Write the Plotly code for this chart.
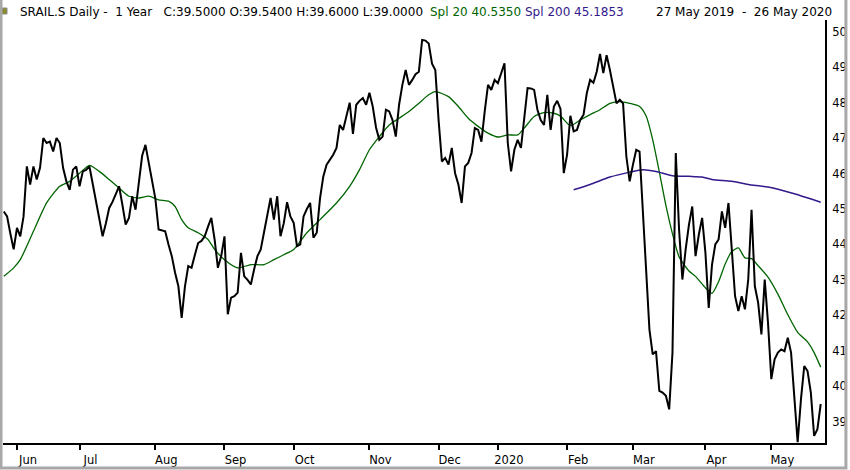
import pandas as pd
import plotly.graph_objects as go

# SIX exchange closed on these days
holidays = ['2019-05-30', '2019-06-10', '2019-08-01', '2019-12-24', '2019-12-25',
            '2019-12-26', '2019-12-31', '2020-01-01', '2020-01-02', '2020-04-10',
            '2020-04-13', '2020-05-01', '2020-05-21']

# daily close, one value per trading day 27 May 2019 .. 26 May 2020
close = [
    44.93, 44.79, 44.30, 43.86, 44.47, 44.23, 44.79, 46.20, 45.69, 46.20,
    45.83, 46.16, 47.00, 46.86, 46.90, 46.62, 47.00, 46.86, 46.16, 45.78,
    45.54, 46.11, 46.20, 45.64, 46.06, 46.10, 46.20, 45.70, 45.12, 44.70,
    44.23, 44.60, 45.03, 45.20, 45.40, 45.64, 45.12, 44.56, 44.75, 45.36,
    44.98, 45.80, 46.50, 46.81, 46.30, 45.70, 45.30, 44.42, 44.40, 44.37,
    44.00, 43.67, 43.20, 42.82, 41.93, 42.82, 43.39, 43.34, 43.70, 44.04,
    44.10, 44.23, 44.50, 44.75, 44.14, 43.34, 43.67, 44.23, 42.03, 42.50,
    42.54, 42.64, 43.76, 43.10, 43.00, 42.87, 43.30, 43.67, 43.86, 44.33,
    44.80, 45.31, 44.70, 45.36, 44.23, 44.60, 45.19, 44.79, 44.61, 43.95,
    44.00, 44.79, 45.00, 45.17, 44.19, 44.33, 45.30, 45.92, 46.25, 46.40,
    46.53, 46.72, 47.37, 47.23, 47.60, 48.00, 47.12, 47.94, 48.05, 48.13,
    47.94, 48.28, 47.89, 47.30, 46.95, 47.04, 47.80, 47.75, 47.51, 47.04,
    47.94, 48.50, 48.92, 48.50, 48.64, 48.80, 48.87, 49.77, 49.75, 49.67,
    49.10, 48.92, 47.50, 46.34, 46.44, 46.25, 46.72, 46.01, 45.69, 45.17,
    46.20, 46.30, 46.58, 47.28, 47.23, 46.90, 47.75, 48.50, 48.36, 48.64,
    48.55, 48.80, 49.11, 46.86, 46.06, 46.67, 46.95, 46.72, 47.61, 48.41,
    48.40, 48.36, 47.80, 47.51, 47.37, 48.22, 47.23, 47.89, 48.05, 47.82,
    46.01, 46.53, 47.63, 47.19, 47.23, 47.51, 47.66, 48.27, 48.64, 48.56,
    48.87, 49.37, 48.83, 49.34, 48.92, 48.41, 47.98, 48.08, 47.98, 46.48,
    45.78, 46.25, 46.67, 46.62, 44.98, 43.20, 41.60, 40.90, 40.99, 39.87,
    39.82, 39.73, 39.35, 40.95, 46.58, 44.42, 43.01, 43.86, 44.56, 45.07,
    43.67, 44.28, 44.75, 43.76, 42.21, 43.43, 44.00, 44.14, 44.93, 44.47,
    45.17, 43.86, 42.54, 42.12, 42.54, 42.17, 43.01, 44.98, 42.82, 42.36,
    41.46, 43.01, 41.79, 40.20, 40.76, 40.95, 41.04, 40.99, 41.37, 40.95,
    39.68, 38.42, 39.63, 40.57, 40.43, 39.82, 38.60, 38.79, 39.50,
]

# 20-day moving average, read at these trading-day numbers
sma20_day = [0, 3, 5, 9, 13, 17, 20, 23, 26, 29, 32, 35, 38, 41, 44, 47, 50, 52, 54, 56,
             59, 62, 64, 67, 71, 75, 79, 82, 85, 88, 92, 96, 101, 105, 108, 111, 114, 117,
             120, 123, 126, 129, 131, 135, 138, 141, 144, 147, 150, 153, 156, 158, 161,
             164, 167, 169, 172, 175, 178, 181, 184, 187, 190, 193, 195, 197, 199, 201,
             203, 205, 208, 210, 213, 215, 217, 219, 221, 223, 225, 227, 229, 232, 235,
             238, 241, 244, 246, 248]
sma20 = [43.10, 43.34, 43.57, 44.37, 45.17, 45.64, 45.78, 46.01, 46.23, 46.06, 45.83,
         45.59, 45.36, 45.31, 45.36, 45.26, 45.22, 45.07, 44.70, 44.47, 44.33, 44.14,
         43.86, 43.57, 43.34, 43.43, 43.43, 43.57, 43.71, 43.86, 44.33, 44.70, 45.17,
         45.64, 46.11, 46.67, 47.04, 47.37, 47.56, 47.75, 47.98, 48.22, 48.31, 48.17,
         47.89, 47.56, 47.33, 47.14, 47.03, 47.09, 47.09, 47.28, 47.61, 47.72, 47.70,
         47.62, 47.35, 47.51, 47.66, 47.80, 47.98, 48.03, 47.98, 47.89, 47.62, 46.95,
         46.05, 45.10, 44.30, 43.65, 43.25, 43.10, 42.78, 42.62, 42.95, 43.45, 43.80,
         43.90, 43.62, 43.60, 43.40, 43.08, 42.60, 42.02, 41.52, 41.25, 40.95, 40.54]

# 200-day moving average (starts in February)
sma200_day = [173, 178, 184, 190, 194, 198, 203, 208, 212, 215, 221, 226, 232, 240, 248]
sma200 = [45.54, 45.69, 45.90, 46.04, 46.11, 46.06, 45.94, 45.92, 45.90, 45.83, 45.78,
          45.69, 45.62, 45.43, 45.19]

tick_dates = ['2019-06-03', '2019-07-01', '2019-08-02', '2019-09-02', '2019-10-01',
              '2019-11-01', '2019-12-02', '2020-01-03', '2020-02-03', '2020-03-02',
              '2020-04-01', '2020-05-04']
tick_labels = ['Jun', 'Jul', 'Aug', 'Sep', 'Oct', 'Nov', 'Dec', '2020', 'Feb', 'Mar',
               'Apr', 'May']
y_ticks = [39, 40, 41, 42, 43, 44, 45, 46, 47, 48, 49, 50]

days = [d.strftime('%Y-%m-%d') for d in pd.bdate_range('2019-05-27', '2020-05-26')
        if d.strftime('%Y-%m-%d') not in holidays]

W, H = 850, 470
ML, MR, MT, MB = 3, 22, 20, 26
PW, PH = W - ML - MR, H - MT - MB


def px(x):
    return (x - ML) / PW


def py(y):
    return 1 + (MT - y) / PH


green = '#006400'
purple = '#33198c'

fig = go.Figure()
fig.add_trace(go.Scatter(x=[days[i] for i in sma20_day], y=sma20, mode='lines',
                         line=dict(color=green, width=1.3, shape='spline', smoothing=0.6)))
fig.add_trace(go.Scatter(x=[days[i] for i in sma200_day], y=sma200, mode='lines',
                         line=dict(color=purple, width=1.5, shape='spline', smoothing=0.6)))
fig.add_trace(go.Scatter(x=days, y=close, mode='lines', line=dict(color='black', width=2)))

nb = '\u00a0'
fig.add_annotation(x=px(18), y=py(12), xref='paper', yref='paper', xanchor='left',
                   yanchor='middle', showarrow=False, font=dict(color='black'),
                   text='SRAIL.S Daily -' + nb * 2 + '1 Year' + nb * 3 +
                        'C:39.5000 O:39.5400 H:39.6000 L:39.0000')
fig.add_annotation(x=px(430), y=py(12), xref='paper', yref='paper', xanchor='left',
                   yanchor='middle', showarrow=False, font=dict(color=green),
                   text='Spl 20 40.5350')
fig.add_annotation(x=px(525), y=py(12), xref='paper', yref='paper', xanchor='left',
                   yanchor='middle', showarrow=False, font=dict(color=purple),
                   text='Spl 200 45.1853')
fig.add_annotation(x=px(837), y=py(12), xref='paper', yref='paper', xanchor='right',
                   yanchor='middle', showarrow=False, font=dict(color='black'),
                   text='27 May 2019' + nb * 2 + '-' + nb * 2 + '26 May 2020')

# small symbol icon and the grey window frame
fig.add_shape(type='rect', xref='paper', yref='paper', x0=px(2), x1=px(7), y0=py(14), y1=py(8),
              fillcolor='#8a8a2a', line=dict(color='#888888', width=1))
fig.add_shape(type='path', xref='paper', yref='paper', line=dict(color='#a8a8a8', width=3),
              path=f'M {px(1)} {py(0)} L {px(1)} {py(469)} L {px(849)} {py(469)} L {px(849)} {py(0)}')

fig.update_layout(
    width=W, height=H,
    margin=dict(l=ML, r=MR, t=MT, b=MB, pad=0),
    showlegend=False,
    plot_bgcolor='white', paper_bgcolor='white',
    font=dict(family='DejaVu Sans', size=12, color='black'),
)
fig.update_xaxes(type='category', categoryorder='array', categoryarray=days,
                 range=[-0.24, 249.3], tickvals=tick_dates, tickangle=0,
                 ticktext=tick_labels, ticks='outside', ticklen=5, tickwidth=1.5,
                 tickcolor='black', showline=True, linecolor='black', linewidth=2,
                 showgrid=False, zeroline=False, ticklabelshift=11,
                 tickfont=dict(size=11.5))
fig.update_yaxes(side='right', range=[38.40, 50.33], tickvals=y_ticks, ticks='',
                 showline=True, linecolor='black', linewidth=2, showgrid=False,
                 zeroline=False, ticklabelstandoff=3, tickfont=dict(size=11.5))

# drop the browser's default 8px body margin so the figure sits at the window corner
fig.write_html('out.html', config={'displayModeBar': False},
               post_script="document.body.style.margin='0';document.body.style.overflow='hidden';")
